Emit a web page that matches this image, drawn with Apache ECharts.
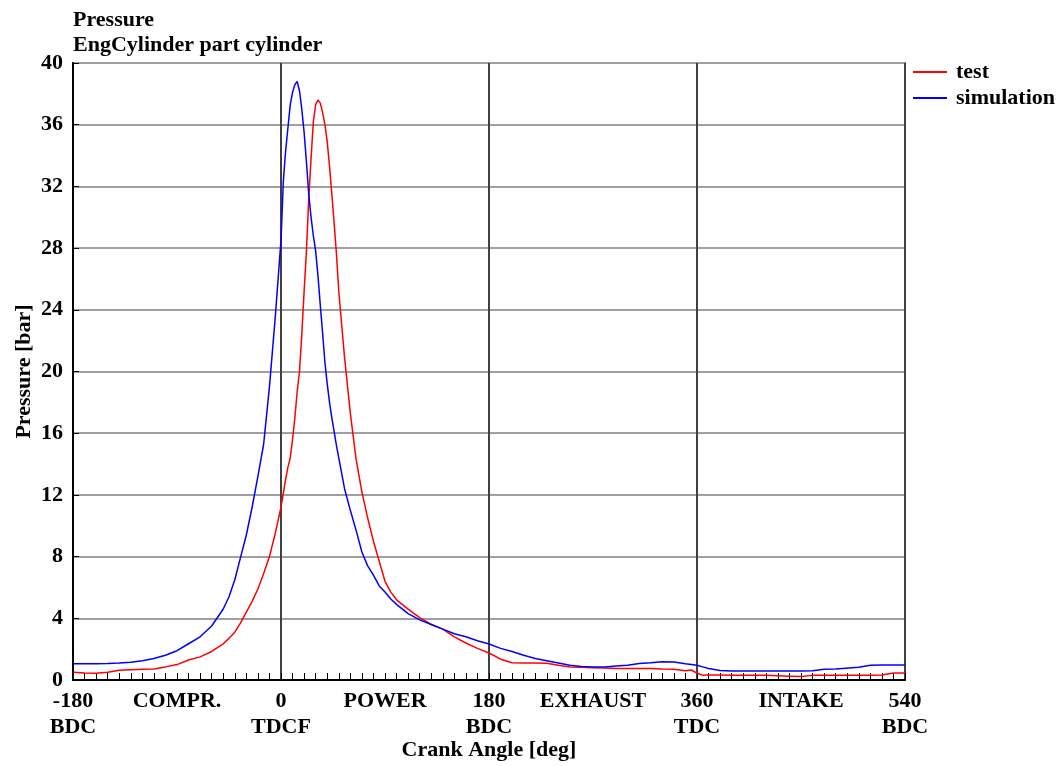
<!DOCTYPE html>
<html>
<head>
<meta charset="utf-8">
<script src="https://cdn.jsdelivr.net/npm/echarts@6/dist/echarts.min.js"></script>
<style>
html,body{margin:0;padding:0;background:#fff;}
#chart{width:1064px;height:766px;}
</style>
</head>
<body>
<div id="chart"></div>
<script>
// ---- data ----
var crankAngle = [
  -180,-170,-160,-150,-140,-130,-120,-110,-100,-90,
  -80,-70,-60,-50,-45,-40,-35,-30,-25,-20,
  -15,-10,-5,0,2,4,6,8,10,12,
  14,16,18,20,22,24,26,28,30,32,
  34,36,38,40,42,44,46,48,50,55,
  60,65,70,75,80,85,90,95,100,110,
  120,130,140,150,160,170,180,190,200,210,
  220,230,240,250,260,270,280,290,300,310,
  320,330,340,350,355,360,365,370,380,390,
  400,420,440,450,460,470,480,500,510,520,530,540
];
var testPressure = [
  0.5,0.45,0.43,0.5,0.63,0.67,0.7,0.72,0.85,1.0,
  1.3,1.5,1.85,2.35,2.7,3.1,3.7,4.4,5.1,5.9,
  6.9,8.0,9.5,11.2,12.1,13.0,13.8,14.4,15.6,17.0,
  18.7,20.0,22.4,25.2,27.8,31.2,33.8,36.2,37.3,37.6,
  37.4,36.8,36.0,34.9,33.3,31.5,29.6,27.6,25.2,20.9,
  17.3,14.3,12.2,10.5,9.0,7.7,6.4,5.7,5.2,4.6,
  4.05,3.6,3.3,2.8,2.4,2.05,1.75,1.35,1.12,1.1,
  1.1,1.08,0.95,0.85,0.82,0.8,0.78,0.75,0.75,0.75,
  0.75,0.72,0.7,0.6,0.65,0.45,0.3,0.32,0.32,0.3,
  0.3,0.3,0.25,0.22,0.3,0.3,0.3,0.3,0.3,0.32,0.45,0.45
];
var simPressure = [
  1.05,1.05,1.05,1.07,1.1,1.15,1.25,1.4,1.6,1.9,
  2.35,2.8,3.5,4.6,5.4,6.5,7.95,9.4,11.2,13.2,
  15.3,19.0,23.5,28.5,32.3,34.3,35.8,37.3,38.1,38.6,
  38.8,38.2,37.0,35.5,33.6,31.5,30.0,28.8,27.8,26.2,
  24.3,22.5,20.6,19.2,18.0,17.0,16.1,15.2,14.4,12.4,
  11.0,9.7,8.3,7.4,6.8,6.1,5.7,5.25,4.9,4.3,
  3.9,3.6,3.3,3.0,2.8,2.55,2.33,2.05,1.85,1.6,
  1.4,1.25,1.1,0.95,0.87,0.85,0.85,0.9,0.95,1.07,
  1.12,1.18,1.17,1.05,1.0,0.95,0.85,0.75,0.62,0.58,
  0.58,0.58,0.58,0.58,0.6,0.7,0.72,0.82,0.95,0.97,0.97,0.97
];
var xTickValues = [-180,-90,0,90,180,270,360,450,540];
var xTickLabels = ['-180\nBDC','COMPR.','0\nTDCF','POWER','180\nBDC','EXHAUST','360\nTDC','INTAKE','540\nBDC'];
var seriesNames = ['test','simulation'];

// ---- chart ----
var FONT = 'Liberation Serif';
function pairs(xs, ys){ return xs.map(function(x,i){ return [x, ys[i]]; }); }

var chart = echarts.init(document.getElementById('chart'), null, {renderer:'canvas'});
chart.setOption({
  animation:false,
  backgroundColor:'#fff',
  title:{
    text:'Pressure\nEngCylinder part cylinder',
    left:73, top:8, padding:0,
    textStyle:{fontFamily:FONT, fontSize:22, fontWeight:'bold', color:'#000', lineHeight:25}
  },
  legend:{
    orient:'vertical', left:913, top:61, padding:0,
    itemWidth:34, itemHeight:2, itemGap:4,
    icon:'rect',
    data:seriesNames,
    textStyle:{fontFamily:FONT, fontSize:22, fontWeight:'bold', color:'#000', lineHeight:22, padding:[0,0,0,4]}
  },
  grid:{left:73, right:159, top:63, bottom:86, show:true, borderColor:'#000', borderWidth:1.5, backgroundColor:'transparent', containLabel:false, outerBoundsMode:'none'},
  xAxis:[{
    type:'value', min:-180, max:540, interval:90,
    name:'Crank Angle [deg]', nameLocation:'middle', nameGap:59, nameMoveOverlap:false,
    nameTextStyle:{fontFamily:FONT, fontSize:22, fontWeight:'bold', color:'#000'},
    axisLine:{show:true, onZero:false, lineStyle:{color:'#000', width:2}},
    axisTick:{show:true, inside:true, length:7, lineStyle:{color:'#000', width:1}},
    minorTick:{show:true, splitNumber:9, length:7, lineStyle:{color:'#000', width:1}},
    splitLine:{show:false},
    axisLabel:{
      show:true, margin:8, showMinLabel:true, showMaxLabel:true,
      fontFamily:FONT, fontSize:22, fontWeight:'bold', color:'#000', lineHeight:26,
      formatter:function(v){ var i = xTickValues.indexOf(v); return i>=0 ? xTickLabels[i] : ''; }
    }
  },{
    type:'value', min:-180, max:540, interval:180, position:'bottom',
    axisLine:{show:false, onZero:false}, axisTick:{show:false}, axisLabel:{show:false},
    splitLine:{show:true, lineStyle:{color:'#404040', width:2}}
  }],
  yAxis:{
    type:'value', min:0, max:40, interval:4, position:'left',
    name:'Pressure [bar]', nameLocation:'middle', nameGap:38, nameRotate:90, nameMoveOverlap:false,
    nameTextStyle:{fontFamily:FONT, fontSize:22, fontWeight:'bold', color:'#000'},
    axisLine:{show:true, onZero:false, lineStyle:{color:'#000', width:2}},
    axisTick:{show:true, inside:true, length:6, lineStyle:{color:'#000', width:1}},
    splitLine:{show:true, lineStyle:{color:'#a0a0a0', width:2}},
    axisLabel:{margin:10, fontFamily:FONT, fontSize:22, fontWeight:'bold', color:'#000'}
  },
  series:[{
    name:seriesNames[0], type:'line', xAxisIndex:0, data:pairs(crankAngle, testPressure),
    showSymbol:false, symbol:'none', color:'#ff0000',
    lineStyle:{color:'#ff0000', width:1.5}, z:3
  },{
    name:seriesNames[1], type:'line', xAxisIndex:0, data:pairs(crankAngle, simPressure),
    showSymbol:false, symbol:'none', color:'#0000ff',
    lineStyle:{color:'#0000ff', width:1.5}, z:4
  }]
});
</script>
</body>
</html>
